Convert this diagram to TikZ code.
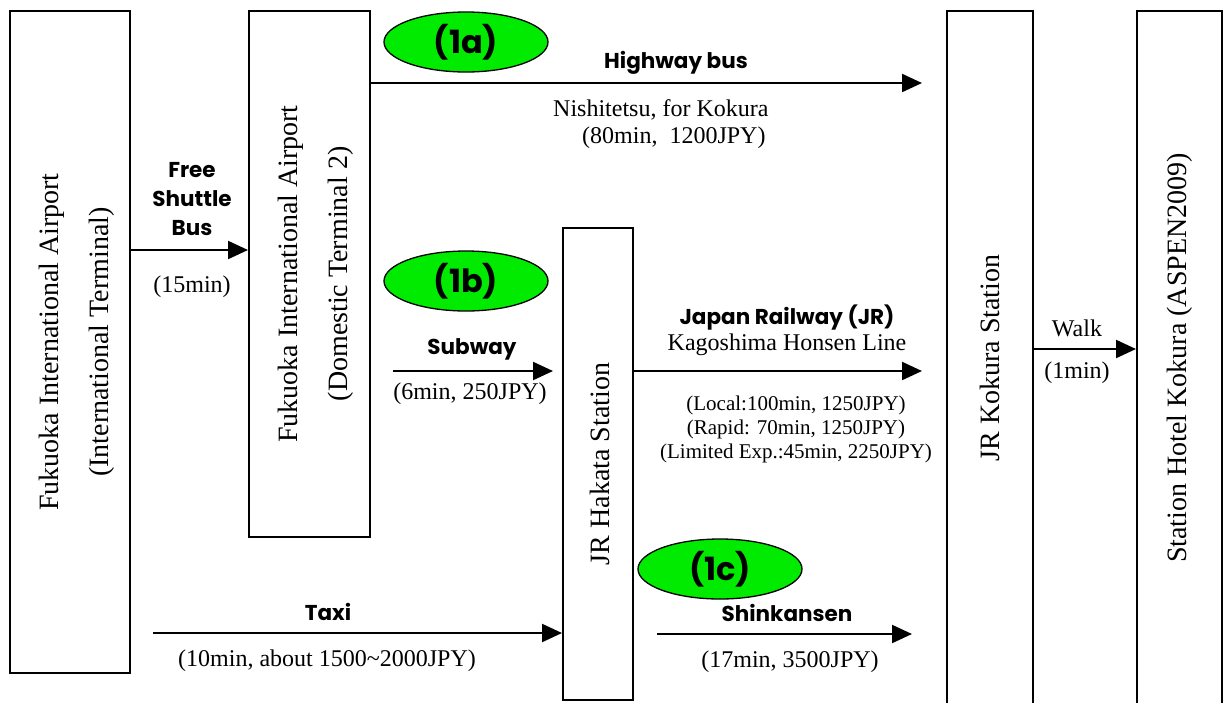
\documentclass[tikz,border=0pt]{standalone}
\usepackage{fontspec}
\setmainfont{Liberation Serif}
\newfontfamily\lblfont{Poppins}
\usetikzlibrary{shapes.geometric, arrows.meta, positioning}
\definecolor{tagGreen}{RGB}{0,235,0}

\begin{document}
\begin{tikzpicture}[x=1pt, y=-1pt]
\tikzstyle{place} = [rectangle, draw=black, line width=2pt, inner sep=0pt]
\tikzstyle{vtext} = [rotate=90, align=center, inner sep=0pt, font=\fontsize{28}{50}\selectfont]
\tikzstyle{tag} = [ellipse, draw=black, fill=tagGreen, line width=1.3pt, minimum width=164pt, minimum height=60pt, inner sep=0pt, font=\lblfont\bfseries\fontsize{32}{34}\selectfont]
\tikzstyle{mode} = [align=center, inner sep=0pt, font=\lblfont\bfseries\fontsize{21.5}{29}\selectfont]
\tikzstyle{info} = [align=center, inner sep=0pt, font=\fontsize{24}{25}\selectfont]
\tikzstyle{arr} = [-{Triangle[length=20pt, width=18pt]}, line width=2.2pt]

\useasboundingbox (0,0) rectangle (1223,702);
\clip (0,0) rectangle (1223,702);

% places
\node (intl) [place, minimum width=120pt, minimum height=662pt] at (70,342) {};
\node (dom) [place, minimum width=121pt, minimum height=526pt] at (309.5,274) {};
\node (hakata) [place, minimum width=70pt, minimum height=472pt] at (598,464) {};
\node (koku) [place, minimum width=86pt, minimum height=709pt] at (990,365.5) {};
\node (hotel) [place, minimum width=85pt, minimum height=709pt] at (1179.5,365.5) {};

\node (intlname) [vtext] at ([xshift=7pt]intl.center) {Fukuoka International Airport\\(International Terminal)};
\node (domname) [vtext] at ([xshift=6pt]dom.center) {Fukuoka International Airport\\(Domestic Terminal 2)};
\node (hakataname) [vtext] at ([xshift=2pt]hakata.center) {JR Hakata Station};
\node (kokuname) [vtext] at (990,358) {JR Kokura Station};
\node (hotelname) [vtext] at (1180,358) {Station Hotel Kokura (ASPEN2009)};

% route tags
\node (tagA) [tag] at (466,42) {(1a)};
\node (tagB) [tag] at (466,281) {(1b)};
\node (tagC) [tag] at (720,569) {(1c)};

% arrow ends
\coordinate (shuttleY) at (0,250);
\coordinate (busEnd) at (922,83);
\coordinate (subStart) at (393,371);
\coordinate (subEnd) at (553,371);
\coordinate (jrEnd) at (922,371);
\coordinate (taxiStart) at (153,633);
\coordinate (shinStart) at (657,634);
\coordinate (shinEnd) at (912,634);
\coordinate (walkY) at (0,349);

\draw[arr] (intl.east |- shuttleY) -- (dom.west |- shuttleY);
\draw[arr] (dom.east |- busEnd) -- (busEnd);
\draw[arr] (subStart) -- (subEnd);
\draw[arr] (hakata.east |- jrEnd) -- (jrEnd);
\draw[arr] (taxiStart) -- (hakata.west |- taxiStart);
\draw[arr] (shinStart) -- (shinEnd);
\draw[arr] (koku.east |- walkY) -- (hotel.west |- walkY);

% labels
\node (shuttle) [mode] at (192,199) {Free\\Shuttle\\Bus};
\node (shuttletime) [info] at (192,287) {(15min)};
\node (hwbus) [mode] at (676,63) {Highway bus};
\node (hwinfo) [info, align=left, anchor=west, font=\fontsize{24}{27}\selectfont] at (553,124) {Nishitetsu, for Kokura\\\hspace*{29pt}(80min,\ \ 1200JPY)};
\node (subway) [mode] at (472,349) {Subway};
\node (subinfo) [info] at (470,394) {(6min, 250JPY)};
\node (jr) [mode] at (787,318) {Japan Railway (JR)};
\node (jrline) [info] at (787,345) {Kagoshima Honsen Line};
\node (jrinfo) [info, font=\fontsize{21}{24}\selectfont] at (796,429) {(Local:100min, 1250JPY)\\(Rapid: 70min, 1250JPY)\\(Limited Exp.:45min, 2250JPY)};
\node (taxi) [mode] at (328,612) {Taxi};
\node (taxiinfo) [info] at (327,661) {(10min, about 1500\textasciitilde 2000JPY)};
\node (shin) [mode] at (787,613) {Shinkansen};
\node (shininfo) [info] at (790,662) {(17min, 3500JPY)};
\node (walk) [info] at (1077,328) {Walk};
\node (walkinfo) [info] at (1077,373) {(1min)};

\end{tikzpicture}
\end{document}
